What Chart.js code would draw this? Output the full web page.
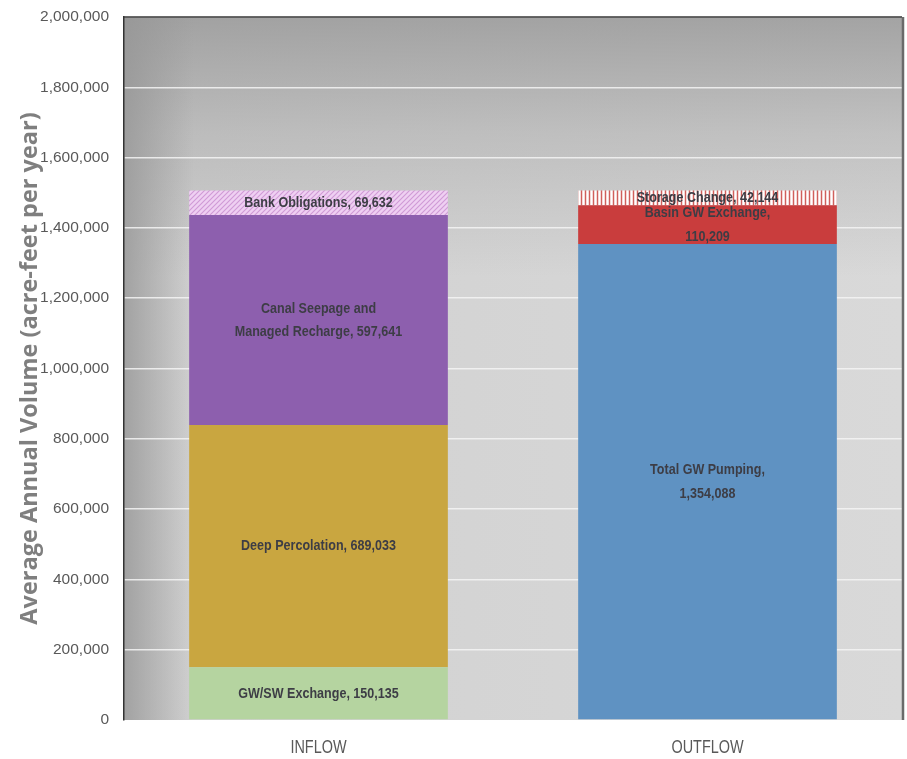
<!DOCTYPE html>
<html><head><meta charset="utf-8">
<script src="https://cdn.jsdelivr.net/npm/chart.js@4.4.1/dist/chart.umd.min.js"></script>
<style>html,body{margin:0;padding:0;background:#fff}#wrap{width:907px;height:759px}</style>
</head><body><div id="wrap"><canvas id="c" width="907" height="759"></canvas></div>
<script>
const categories = ['INFLOW', 'OUTFLOW'];
const inflowNames = ['GW/SW Exchange', 'Deep Percolation', 'Canal Seepage and\nManaged Recharge', 'Bank Obligations'];
const inflowValues = [150135, 689033, 597641, 69632];
const inflowBreak = [false, false, false, false];
const outflowNames = ['Total GW Pumping', 'Basin GW Exchange', 'Storage Change'];
const outflowValues = [1354088, 110209, 42144];
const outflowBreak = [true, true, false];
const yMax = 2000000;
const yStep = 200000;
const yTitle = 'Average Annual Volume (acre-feet per year)';

function pattern(base, line, kind) {
  const c = document.createElement('canvas');
  const s = kind === 'diag' ? 5 : 4;
  c.width = s; c.height = s;
  const x = c.getContext('2d');
  x.fillStyle = base; x.fillRect(0, 0, s, s);
  x.strokeStyle = line;
  if (kind === 'diag') {
    x.lineWidth = 1.1;
    x.beginPath();
    x.moveTo(0, s); x.lineTo(s, 0);
    x.moveTo(-s, s); x.lineTo(s, -s);
    x.moveTo(0, 2 * s); x.lineTo(2 * s, 0);
    x.stroke();
  } else {
    x.lineWidth = 1.5;
    x.beginPath(); x.moveTo(1.5, 0); x.lineTo(1.5, s); x.stroke();
  }
  return x.createPattern(c, 'repeat');
}

const inflowColors = ['#b5d4a0', '#c9a640', '#8d5fae', pattern('#efd0f2', '#cf9ad6', 'diag')];
const outflowColors = ['#5f92c2', '#c93d3d', pattern('#ffffff', '#d0605c', 'vert')];

const datasets = [];
inflowValues.forEach((v, i) => datasets.push({
  label: inflowNames[i], data: [v, null], backgroundColor: inflowColors[i],
  segLabel: inflowNames[i] + ',' + (inflowBreak[i] ? '\n' : ' ') + v.toLocaleString('en-US'), segIndex: 0
}));
outflowValues.forEach((v, i) => datasets.push({
  label: outflowNames[i], data: [null, v], backgroundColor: outflowColors[i],
  segLabel: outflowNames[i] + ',' + (outflowBreak[i] ? '\n' : ' ') + v.toLocaleString('en-US'), segIndex: 1
}));

function condensedText(ctx, t, x, y, sx) {
  ctx.save();
  ctx.translate(x, y);
  ctx.scale(sx, 1);
  ctx.fillText(t, 0, 0);
  ctx.restore();
}

const bgPlugin = {
  id: 'bg',
  beforeDraw(chart) {
    const {ctx, chartArea: a} = chart;
    const w = a.right - a.left, h = a.bottom - a.top;
    ctx.save();
    let g = ctx.createLinearGradient(a.left, 0, a.right, 0);
    g.addColorStop(0, '#d0d0d0');
    g.addColorStop(1, '#d9d9d9');
    ctx.fillStyle = g;
    ctx.fillRect(a.left, a.top, w, h);
    let g2 = ctx.createLinearGradient(0, a.top, 0, a.top + 260);
    g2.addColorStop(0, 'rgba(150,150,150,0.8)');
    g2.addColorStop(0.45, 'rgba(150,150,150,0.35)');
    g2.addColorStop(1, 'rgba(150,150,150,0)');
    ctx.fillStyle = g2;
    ctx.fillRect(a.left, a.top, w, h);
    let g3 = ctx.createLinearGradient(a.left, 0, a.left + 70, 0);
    g3.addColorStop(0, 'rgba(150,150,150,0.8)');
    g3.addColorStop(1, 'rgba(150,150,150,0)');
    ctx.fillStyle = g3;
    ctx.fillRect(a.left, a.top, w, h);
    ctx.restore();
  },
  afterDraw(chart) {
    const {ctx, chartArea: a} = chart;
    ctx.save();
    ctx.strokeStyle = '#3a3a3a';
    ctx.lineWidth = 1.5;
    ctx.beginPath();
    ctx.moveTo(a.left, a.top); ctx.lineTo(a.right, a.top);
    ctx.stroke();
    ctx.strokeStyle = '#6a6a6a';
    ctx.lineWidth = 2.5;
    ctx.beginPath();
    ctx.moveTo(a.right + 1, a.top); ctx.lineTo(a.right + 1, a.bottom);
    ctx.stroke();
    ctx.textAlign = 'center';
    ctx.textBaseline = 'middle';
    // category labels under the bars
    const xs = chart.scales.x;
    ctx.font = '19px "Liberation Sans", "DejaVu Sans", sans-serif';
    ctx.fillStyle = '#595959';
    chart.data.labels.forEach((lab, i) => condensedText(ctx, lab, xs.getPixelForTick(i), a.bottom + 28, 0.76));
    // segment labels
    ctx.font = 'bold 15.5px "Liberation Sans", "DejaVu Sans", sans-serif';
    ctx.fillStyle = '#3d3d45';
    chart.data.datasets.forEach((ds, di) => {
      const el = chart.getDatasetMeta(di).data[ds.segIndex];
      const cy = (el.y + el.base) / 2;
      const lines = ds.segLabel.split('\n');
      const lh = 23.5;
      lines.forEach((t, li) => condensedText(ctx, t, el.x, cy + (li - (lines.length - 1) / 2) * lh, 0.81));
    });
    ctx.restore();
  }
};

new Chart(document.getElementById('c'), {
  type: 'bar',
  data: { labels: categories, datasets },
  plugins: [bgPlugin],
  options: {
    responsive: false,
    animation: false,
    layout: { padding: { left: 0, top: 17, right: 5, bottom: 0 } },
    plugins: { legend: { display: false }, tooltip: { enabled: false } },
    datasets: { bar: { categoryPercentage: 1, barPercentage: 0.665 } },
    scales: {
      x: {
        stacked: true,
        grid: { display: false },
        border: { display: false },
        ticks: { display: false },
        afterFit(s) { s.height = 39; s.paddingLeft = 0; s.paddingRight = 0; }
      },
      y: {
        stacked: true,
        min: 0, max: yMax,
        grid: {
          drawTicks: false,
          color: (c) => c.tick && c.tick.value === 0 ? 'rgba(0,0,0,0)' : 'rgba(245,245,245,0.85)',
          lineWidth: 1.5
        },
        border: { display: true, color: '#333333', width: 1.5 },
        ticks: {
          stepSize: yStep, padding: 15, color: '#595959',
          font: { family: '"Liberation Sans", sans-serif', size: 15.5 },
          callback: (v) => v.toLocaleString('en-US')
        },
        title: {
          display: true, text: yTitle, color: '#7f7f7f',
          font: { family: '"Open Sans", sans-serif', size: 23.5, weight: 'bold' },
          padding: { top: 16, bottom: 0 }
        },
        afterFit(s) { s.width = 124; s.paddingTop = 0; s.paddingBottom = 0; }
      }
    }
  }
});
</script></body></html>
